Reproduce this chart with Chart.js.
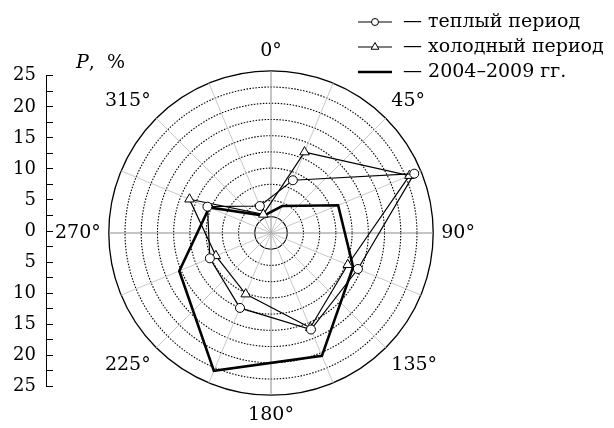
<!DOCTYPE html>
<html>
<head>
<meta charset="utf-8">
<script src="https://cdn.jsdelivr.net/npm/chart.js@4/dist/chart.umd.min.js"></script>
<style>
  html, body { margin: 0; padding: 0; background: #fff; }
  #wrap { position: relative; width: 614px; height: 428px; overflow: hidden; }
  #radar { position: absolute; left: 0; top: 0; }
  #axis { position: absolute; left: 0; top: 55px; }
  #ptitle { position: absolute; left: 76px; top: 50px; font: 19px "DejaVu Serif"; color: #000; }
</style>
</head>
<body>
<div id="wrap">
  <canvas id="radar" width="614" height="428"></canvas>
  <canvas id="axis" width="53" height="352"></canvas>
  <div id="ptitle"><i>P</i>,&nbsp; %</div>
</div>
<script>
// direction labels (every 22.5°, labelled every 45°)
var dirLabels = ['0°', '', '45°', '', '90°', '', '135°', '', '180°', '', '225°', '', '270°', '', '315°', ''];
// rumbs where the values sit
var rumbs = [22.5, 67.5, 112.5, 157.5, 202.5, 247.5, 292.5, 337.5];
// repeatability P, %
var warmP   = [8.8, 23.9, 14.5, 16.1, 12.5, 10.2, 10.6, 4.5];
var coldP   = [13.5, 23.1, 12.8, 15.8, 10.2, 9.2, 13.6, 3.1];
var yearsP  = [4.5, 11.2, 13.7, 20.5, 23.0, 15.3, 10.3, 2.9];
var seriesNames = ['теплый период', 'холодный период', '2004–2009 гг.'];
// left scale ticks
var axisMin = -25, axisMax = 25, axisStep = 2.5;

function spread(vals) {
  var out = dirLabels.map(function () { return null; });
  rumbs.forEach(function (a, i) { out[Math.round(a / 22.5)] = vals[i]; });
  return out;
}

var serif = 'DejaVu Serif';

// legend in the top right corner: line, marker, dash and name
var legendPlugin = {
  id: 'sideLegend',
  afterDraw: function (chart) {
    var ctx = chart.ctx;
    var rows = [22, 47, 72];
    ctx.save();
    chart.data.datasets.forEach(function (ds, i) {
      var y = rows[i];
      ctx.strokeStyle = '#000';
      ctx.lineWidth = ds.borderWidth;
      ctx.beginPath();
      ctx.moveTo(358, y);
      ctx.lineTo(392, y);
      ctx.stroke();
      if (ds.pointRadius > 0) {
        ctx.fillStyle = '#fff';
        ctx.lineWidth = 1;
        Chart.helpers.drawPoint(ctx, {
          pointStyle: ds.pointStyle, radius: ds.pointRadius - 1, borderWidth: 1, rotation: 0
        }, 375, y);
      }
      ctx.fillStyle = '#000';
      ctx.font = '19px "' + serif + '"';
      ctx.textBaseline = 'middle';
      ctx.textAlign = 'left';
      ctx.fillText('— ' + ds.label, 403, y);
    });
    ctx.restore();
  }
};

new Chart(document.getElementById('radar'), {
  type: 'radar',
  data: {
    labels: dirLabels,
    datasets: [
      {
        label: seriesNames[0],
        data: spread(warmP),
        borderColor: '#000',
        borderWidth: 1.2,
        backgroundColor: 'transparent',
        fill: false,
        spanGaps: true,
        pointStyle: 'circle',
        pointRadius: 4.5,
        pointBackgroundColor: '#fff',
        pointBorderColor: '#000',
        pointBorderWidth: 1
      },
      {
        label: seriesNames[1],
        data: spread(coldP),
        borderColor: '#000',
        borderWidth: 1.2,
        backgroundColor: 'transparent',
        fill: false,
        spanGaps: true,
        pointStyle: 'triangle',
        pointRadius: 5.5,
        pointBackgroundColor: '#fff',
        pointBorderColor: '#000',
        pointBorderWidth: 1
      },
      {
        label: seriesNames[2],
        data: spread(yearsP),
        borderColor: '#000',
        borderWidth: 2.6,
        backgroundColor: 'transparent',
        fill: false,
        spanGaps: true,
        pointRadius: 0
      }
    ]
  },
  options: {
    responsive: false,
    animation: false,
    layout: { padding: { left: 11, right: 83, top: 41, bottom: 1 } },
    plugins: { legend: { display: false }, tooltip: { enabled: false } },
    elements: { line: { tension: 0 } },
    scales: {
      r: {
        min: 0,
        max: 25,
        ticks: { display: false, stepSize: 2.5 },
        grid: {
          circular: true,
          color: '#000',
          lineWidth: function (c) { return c.index === 10 ? 1.3 : 1.1; }
        },
        border: {
          dash: function (c) { return (c.index === 1 || c.index === 10) ? [] : [1.5, 1.5]; }
        },
        angleLines: {
          color: function (c) { return c.index % 4 === 0 ? '#8c8c8c' : '#c8c8c8'; },
          lineWidth: 1
        },
        pointLabels: {
          font: { family: serif, size: 19 },
          color: '#000',
          padding: 8
        }
      }
    }
  },
  plugins: [legendPlugin]
});

// the P, % scale on the left: 25 ... 0 ... 25
new Chart(document.getElementById('axis'), {
  type: 'scatter',
  data: { datasets: [{ data: [] }] },
  options: {
    responsive: false,
    animation: false,
    layout: { padding: { left: 0, right: 0, top: 12, bottom: 12 } },
    plugins: { legend: { display: false }, tooltip: { enabled: false } },
    scales: {
      x: { display: false },
      y: {
        min: axisMin,
        max: axisMax,
        afterFit: function (s) { s.width = 46; },
        ticks: {
          stepSize: axisStep,
          autoSkip: false,
          padding: 10,
          color: '#000',
          font: { family: serif, size: 18 },
          callback: function (v) { return v % 5 === 0 ? String(Math.abs(v)) : ''; }
        },
        grid: { drawTicks: false, color: '#000', lineWidth: 1 },
        border: { display: true, color: '#000', width: 1 }
      }
    }
  }
});
</script>
</body>
</html>
